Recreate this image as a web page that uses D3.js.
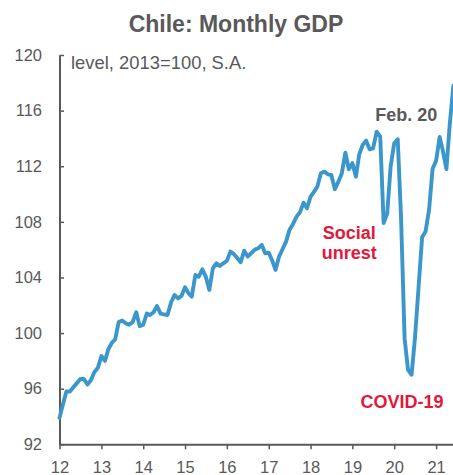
<!DOCTYPE html>
<html>
<head>
<meta charset="utf-8">
<script src="https://cdn.jsdelivr.net/npm/d3@7"></script>
<style>
  html, body { margin: 0; padding: 0; background: #fff; }
  svg { display: block; font-family: "Liberation Sans", Arial, sans-serif; }
</style>
</head>
<body>
<svg id="chart" width="453" height="475"></svg>
<script>
// ---- data (monthly, seasonally adjusted, 2013=100), Jan 2012 .. Jun 2021 ----
const startYear = 2012;
const startMonth = 0; // January
const gdpValues = [
  93.9, 94.9, 95.8, 95.8, 96.1, 96.4, 96.7, 96.7, 96.3, 96.6, 97.2, 97.5,      // 2012
  98.35, 98.0, 98.8, 99.3, 99.55, 100.8, 100.9, 100.7, 100.6, 100.8, 101.5, 100.5, // 2013
  100.6, 101.4, 101.3, 101.5, 101.95, 101.4, 101.35, 101.3, 102.2, 102.74, 102.5, 102.67, // 2014
  103.3, 102.86, 102.62, 104.18, 104.06, 104.59, 104.06, 103.1, 104.66, 105.02, 104.83, 105.02, // 2015
  105.19, 105.86, 105.69, 105.4, 105.09, 105.93, 105.5, 105.75, 106.0, 106.1, 106.34, 105.74, // 2016
  105.78, 105.2, 104.54, 105.5, 106.03, 106.58, 107.42, 107.85, 108.37, 108.7, 109.38, 108.98, // 2017
  109.81, 110.17, 110.53, 111.5, 111.61, 111.42, 111.37, 110.35, 110.89, 111.5, 112.98, 111.78, // 2018
  112.22, 111.25, 112.81, 113.53, 113.84, 113.22, 113.29, 114.49, 114.13, 107.92, 108.6, 111.97, // 2019
  113.65, 113.94, 108.3, 99.6, 97.35, 97.0, 99.7, 103.3, 106.9, 107.3, 108.9, 111.8, // 2020
  112.4, 114.1, 113.1, 111.8, 115.1, 117.8 // 2021
];
const yTicks = [92, 96, 100, 104, 108, 112, 116, 120];
const xTickYears = [2012, 2013, 2014, 2015, 2016, 2017, 2018, 2019, 2020, 2021];
const xTickLabels = ["12", "13", "14", "15", "16", "17", "18", "19", "20", "21"];
const titleText = "Chile: Monthly GDP";
const subtitleText = "level, 2013=100, S.A.";
const annotations = [
  { lines: ["Feb. 20"], date: [2020, 1], value: 114.0, kind: "note" },
  { lines: ["Social", "unrest"], date: [2019, 10], value: 107.9, kind: "event" },
  { lines: ["COVID-19"], date: [2020, 5], value: 97.0, kind: "event" }
];

// ---- layout ----
const svg = d3.select("#chart");
const mLeft = 59.5, mRight = 453.4, mTop = 55, mBottom = 444.3;
const gray = "#595959", blue = "#3B97CB", red = "#E3173A";

const data = gdpValues.map((v, i) => ({ date: new Date(startYear, startMonth + i, 1), value: v }));

const x = d3.scaleTime()
  .domain([new Date(startYear, startMonth, 1), data[data.length - 1].date])
  .range([mLeft, mRight]);
const y = d3.scaleLinear().domain([92, 120]).range([mBottom, mTop]);

// title
svg.append("text")
  .attr("x", 236).attr("y", 32)
  .attr("text-anchor", "middle")
  .attr("font-size", 23).attr("font-weight", "bold")
  .attr("fill", gray)
  .text(titleText);

// subtitle
svg.append("text")
  .attr("x", 71).attr("y", 69)
  .attr("font-size", 18.4)
  .attr("fill", gray)
  .text(subtitleText);

// y axis
const yAxis = d3.axisLeft(y).tickValues(yTicks).tickSizeInner(-4.5).tickSizeOuter(0).tickPadding(17.5);
const gy = svg.append("g").attr("transform", `translate(${mLeft},0)`).call(yAxis);
gy.select(".domain").attr("stroke", gray).attr("stroke-width", 2);
gy.selectAll(".tick line").attr("stroke", gray).attr("stroke-width", 1.5);
gy.selectAll(".tick text").attr("fill", gray).attr("font-size", 16.5)
  .attr("font-family", "Liberation Sans, Arial, sans-serif");

// x axis
const xAxis = d3.axisBottom(x)
  .tickValues(xTickYears.map(yr => new Date(yr, 0, 1)))
  .tickFormat((d, i) => xTickLabels[i])
  .tickSizeInner(5).tickSizeOuter(0).tickPadding(12.4);
const gx = svg.append("g").attr("transform", `translate(0,${mBottom})`).call(xAxis);
gx.select(".domain").attr("stroke", gray).attr("stroke-width", 2);
gx.selectAll(".tick line").attr("stroke", gray).attr("stroke-width", 1.5);
gx.selectAll(".tick text").attr("fill", gray).attr("font-size", 16.5)
  .attr("font-family", "Liberation Sans, Arial, sans-serif");

// line
const line = d3.line().x(d => x(d.date)).y(d => y(d.value));
svg.append("path")
  .datum(data)
  .attr("fill", "none")
  .attr("stroke", blue)
  .attr("stroke-width", 3.9)
  .attr("stroke-linejoin", "round")
  .attr("stroke-linecap", "round")
  .attr("d", line);

// annotations (placed relative to the marked point through the scales)
const offsets = {
  "Feb. 20": { dx: 8.5, dy: -17 },
  "Social": { dx: -38, dy: 16 },
  "COVID-19": { dx: -9.6, dy: 33 }
};
annotations.forEach(a => {
  const px = x(new Date(a.date[0], a.date[1], 1));
  const py = y(a.value);
  const off = offsets[a.lines[0]];
  const t = svg.append("text")
    .attr("text-anchor", "middle")
    .attr("font-size", 18).attr("font-weight", "bold")
    .attr("fill", a.kind === "note" ? gray : red);
  a.lines.forEach((ln, i) => {
    t.append("tspan")
      .attr("x", px + off.dx)
      .attr("y", py + off.dy + i * 19.5)
      .text(ln);
  });
});
</script>
</body>
</html>
